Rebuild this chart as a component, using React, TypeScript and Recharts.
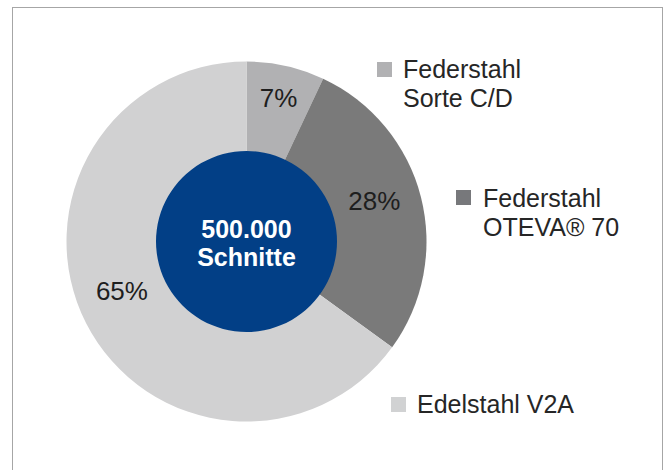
import React from "react";
import { PieChart, Pie, Cell } from "recharts";

const categories = ["Federstahl\nSorte C/D", "Federstahl\nOTEVA® 70", "Edelstahl V2A"];
const shares = [7, 28, 65];
const centerLines = ["500.000", "Schnitte"];

const sliceColors = ["#b1b1b3", "#7a7a7a", "#d1d1d2"];
const legendColors = ["#b1b1b3", "#77787b", "#d1d2d3"];
const CENTER_COLOR = "#023f86";

const data = categories.map((name, i) => ({ name, value: shares[i] }));
const core = [{ name: "core", value: 1 }];

// label placement styling (radius and small angle shift per slice)
const LABEL_R = [147, 134, 134];
const LABEL_SHIFT = [0, 3.2, -5.4];
// legend placement styling
const LEGEND_POS = [
  { sq: [377, 62], text: [403, 55] },
  { sq: [456, 190], text: [483, 184] },
  { sq: [391, 397], text: [417, 390] },
];
const CX = 246.5;
const CY = 241.5;

const FONT = "'Liberation Sans', Arial, Helvetica, sans-serif";
const RAD = Math.PI / 180;

const renderSliceLabel = (props: any) => {
  const { cx, cy, midAngle, index, value } = props;
  const a = (midAngle + LABEL_SHIFT[index]) * RAD;
  const r = LABEL_R[index];
  const x = cx + r * Math.cos(-a);
  const y = cy + r * Math.sin(-a);
  return (
    <text
      key={"l" + index}
      x={x}
      y={y + 9}
      textAnchor="middle"
      fill="#1e1e1e"
      fontFamily={FONT}
      fontSize={26}
    >
      {value}%
    </text>
  );
};

export default function App() {
  return (
    <div
      style={{
        position: "absolute",
        left: 0,
        top: 0,
        width: 664,
        height: 470,
        overflow: "hidden",
        background: "#ffffff",
      }}
    >
      <div
        style={{
          position: "absolute",
          left: 12,
          top: 7,
          width: 651,
          height: 500,
          boxSizing: "border-box",
          border: "1.5px solid #a6a6a6",
        }}
      />
      <div style={{ position: "absolute", left: 0, top: 0 }}>
        <PieChart width={664} height={470} margin={{ top: 0, right: 0, bottom: 0, left: 0 }}>
          <Pie
            data={data}
            dataKey="value"
            nameKey="name"
            cx={CX}
            cy={CY}
            innerRadius={0}
            outerRadius={180}
            startAngle={90}
            endAngle={-270}
            stroke="none"
            label={renderSliceLabel}
            labelLine={false}
            isAnimationActive={false}
          >
            {data.map((d, i) => (
              <Cell key={d.name} fill={sliceColors[i]} stroke="none" />
            ))}
          </Pie>
          <Pie
            data={core}
            dataKey="value"
            cx={CX}
            cy={CY}
            innerRadius={0}
            outerRadius={90.5}
            startAngle={90}
            endAngle={-270}
            fill={CENTER_COLOR}
            stroke="none"
            isAnimationActive={false}
          >
            <Cell fill={CENTER_COLOR} stroke="none" />
          </Pie>
        </PieChart>
      </div>
      <div
        style={{
          position: "absolute",
          left: CX - 100,
          top: 214.7,
          width: 200,
          textAlign: "center",
          fontFamily: FONT,
          fontWeight: "bold",
          fontSize: 25,
          lineHeight: "28px",
          color: "#ffffff",
        }}
      >
        {centerLines.map((t) => (
          <div key={t}>{t}</div>
        ))}
      </div>
      {categories.map((name, i) => (
        <React.Fragment key={name}>
          <div
            style={{
              position: "absolute",
              left: LEGEND_POS[i].sq[0],
              top: LEGEND_POS[i].sq[1],
              width: 15,
              height: 15,
              background: legendColors[i],
            }}
          />
          <div
            style={{
              position: "absolute",
              left: LEGEND_POS[i].text[0],
              top: LEGEND_POS[i].text[1],
              fontFamily: FONT,
              fontSize: 25,
              lineHeight: "29px",
              color: "#262626",
              whiteSpace: "pre",
            }}
          >
            {name}
          </div>
        </React.Fragment>
      ))}
    </div>
  );
}
